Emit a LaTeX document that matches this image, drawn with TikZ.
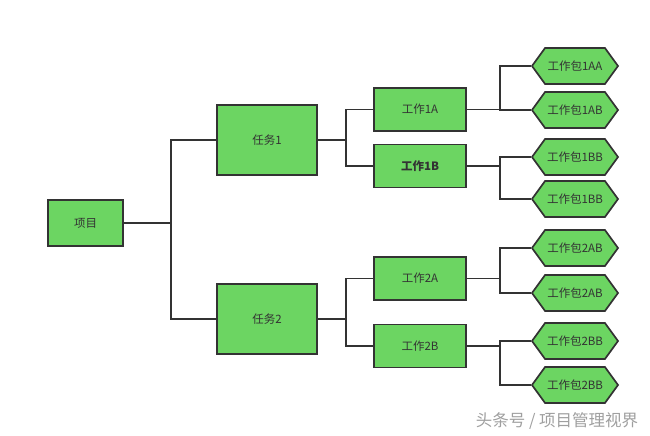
\documentclass[tikz,border=0pt]{standalone}
\usepackage{fontspec}
\setmainfont{Noto Sans CJK SC}
\newfontfamily\marksans{Noto Sans CJK SC}
\usetikzlibrary{shapes.symbols}
\definecolor{boxgreen}{RGB}{108,213,98}
\definecolor{inkgray}{RGB}{51,51,51}
\tikzset{
  box/.style={draw=inkgray,line width=1.7pt,fill=boxgreen,text=inkgray,
    font=\fontsize{11.5}{13}\selectfont,inner sep=0pt},
  hexbox/.style={box,signal,signal to=west and east,signal pointer angle=108,
    minimum width=86,minimum height=36},
  conn/.style={draw=inkgray,line width=1.5pt}
}
\newcommand{\elbow}[3]{\draw[conn] (#1.east) -- ++(#2,0) |- (#3.west);}
\begin{document}
\begin{tikzpicture}[x=1pt,y=-1pt]
\useasboundingbox (0,0) rectangle (650,436);
% project and tasks
\node[box,minimum width=75,minimum height=46] (xm) at (85.5,223) {项目};
\node[box,minimum width=100,minimum height=70] (rw1) at (267,140) {任务1};
\node[box,minimum width=100,minimum height=70] (rw2) at (267,319) {任务2};
% work items
\node[box,minimum width=92,minimum height=43] (gz1A) at (420,109.5) {工作1A};
\node[box,minimum width=92,minimum height=43,font=\fontsize{11.5}{13}\selectfont\bfseries] (gz1B) at (420,166) {工作1B};
\node[box,minimum width=92,minimum height=43] (gz2A) at (420,278.5) {工作2A};
\node[box,minimum width=92,minimum height=43] (gz2B) at (420,346) {工作2B};
% work packages
\foreach \nm/\y/\lab in {b1/66/1AA,b2/110/1AB,b3/157/1BB,b4/199/1BB,
                          b5/248/2AB,b6/293/2AB,b7/341/2BB,b8/385/2BB}{
  \node[hexbox] (\nm) at (575,\y) {工作包\lab};
}
% connectors
\elbow{xm}{47}{rw1}
\elbow{xm}{47}{rw2}
\elbow{rw1}{28}{gz1A}
\elbow{rw1}{28}{gz1B}
\elbow{rw2}{28}{gz2A}
\elbow{rw2}{28}{gz2B}
\elbow{gz1A}{33}{b1}
\elbow{gz1A}{33}{b2}
\elbow{gz1B}{33}{b3}
\elbow{gz1B}{33}{b4}
\elbow{gz2A}{33}{b5}
\elbow{gz2A}{33}{b6}
\elbow{gz2B}{33}{b7}
\elbow{gz2B}{33}{b8}
% watermark
\node[text=gray!75,font=\marksans\fontsize{16.5}{18}\selectfont] (wm) at (557,421) {头条号 / 项目管理视界};
\end{tikzpicture}
\end{document}
